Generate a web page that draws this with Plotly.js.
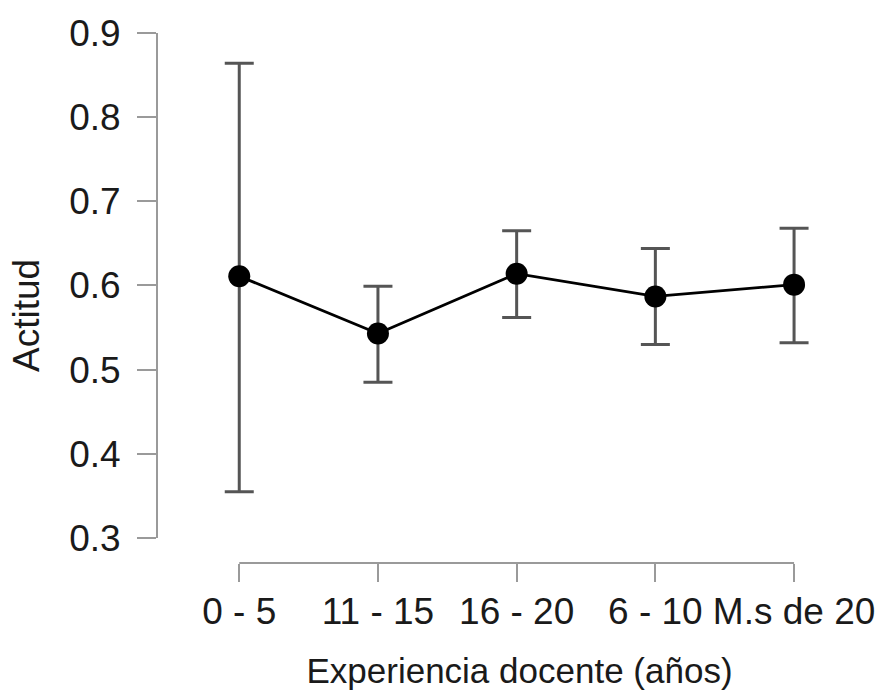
<!DOCTYPE html>
<html>
<head>
<meta charset="utf-8">
<script src="https://cdn.plot.ly/plotly-3.0.1.min.js"></script>
<style>html,body{margin:0;padding:0;background:#fff;}#chart{width:882px;height:693px;}</style>
</head>
<body>
<div id="chart"></div>
<script>
const categories = ["0 - 5", "11 - 15", "16 - 20", "6 - 10", "M.s de 20"];
const means = [0.611, 0.543, 0.614, 0.587, 0.601];
const upper = [0.864, 0.599, 0.665, 0.644, 0.668];
const lower = [0.355, 0.485, 0.562, 0.530, 0.532];
const yTicks = [0.3, 0.4, 0.5, 0.6, 0.7, 0.8, 0.9];
const yTickText = ["0.3", "0.4", "0.5", "0.6", "0.7", "0.8", "0.9"];
const xTitle = "Experiencia docente (años)";
const yTitle = "Actitud";

const errPlus = means.map((m, i) => upper[i] - m);
const errMinus = means.map((m, i) => m - lower[i]);

const axisGrey = "#9a9a9a";
const textCol = "#1a1a1a";
const fontFam = "Liberation Sans, Arial, Helvetica, sans-serif";

const trace = {
  type: "scatter",
  mode: "lines+markers",
  x: categories,
  y: means,
  line: {color: "#000", width: 2.8},
  marker: {color: "#000", size: 22},
  error_y: {
    type: "data", symmetric: false,
    array: errPlus, arrayminus: errMinus,
    color: "#555555", thickness: 3, width: 14.5
  },
  hoverinfo: "skip"
};

const layout = {
  width: 882, height: 693,
  paper_bgcolor: "#fff", plot_bgcolor: "#fff",
  margin: {l: 157, r: 0, t: 20, b: 130, pad: 0},
  showlegend: false,
  font: {family: fontFam, size: 36, color: textCol},
  xaxis: {
    type: "category",
    range: [-0.593, 4.634],
    showline: false, showgrid: false, zeroline: false,
    ticks: "outside", ticklen: 18, tickwidth: 2, tickcolor: axisGrey,
    tickfont: {family: fontFam, size: 37, color: textCol},
    ticklabelstandoff: -2,
    title: {text: xTitle, font: {family: fontFam, size: 35, color: textCol}, standoff: 27},
    automargin: false, fixedrange: true
  },
  yaxis: {
    range: [0.2703, 0.9154],
    tickvals: yTicks, ticktext: yTickText,
    showline: false, showgrid: false, zeroline: false,
    ticks: "outside", ticklen: 19, tickwidth: 2, tickcolor: axisGrey,
    tickfont: {family: fontFam, size: 37, color: textCol},
    ticklabelstandoff: 9,
    automargin: false, fixedrange: true
  },
  annotations: [
    {text: yTitle, textangle: -90, showarrow: false,
     xref: "paper", yref: "paper", x: (27 - 157) / 725, y: (563 - 316) / 543,
     xanchor: "center", yanchor: "middle",
     font: {family: fontFam, size: 37, color: textCol}}
  ],
  shapes: [
    {type: "line", xref: "paper", yref: "y", x0: 0, x1: 0, y0: yTicks[0], y1: yTicks[yTicks.length - 1],
     line: {color: axisGrey, width: 2}},
    {type: "line", xref: "x", yref: "paper", x0: 0, x1: categories.length - 1, y0: 0, y1: 0,
     line: {color: axisGrey, width: 2}}
  ]
};

Plotly.newPlot("chart", [trace], layout, {displayModeBar: false, staticPlot: true});
</script>
</body>
</html>
